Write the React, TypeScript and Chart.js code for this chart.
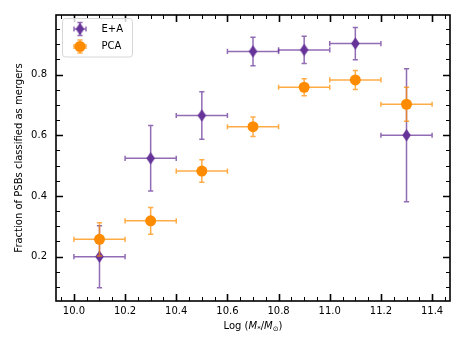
import React, { useEffect, useRef } from 'react';
import { Chart, registerables } from 'chart.js';

Chart.register(...registerables);

// ---- data ----
const massBins = [10.1, 10.3, 10.5, 10.7, 10.9, 11.1, 11.3];
const massHalfWidth = [0.1, 0.1, 0.1, 0.1, 0.1, 0.1, 0.1];
const eaFraction = [0.2, 0.524, 0.665, 0.876, 0.881, 0.902, 0.6];
const eaError = [0.102, 0.108, 0.078, 0.047, 0.045, 0.053, 0.219];
const pcaFraction = [0.257, 0.318, 0.482, 0.628, 0.758, 0.782, 0.702];
const pcaError = [0.055, 0.044, 0.037, 0.032, 0.028, 0.031, 0.056];
const xTickValues = [10.0, 10.2, 10.4, 10.6, 10.8, 11.0, 11.2, 11.4];
const yTickValues = [0.2, 0.4, 0.6, 0.8];
const seriesLabels = ['E+A', 'PCA'];
const yAxisLabel = 'Fraction of PSBs classified as mergers';
const xRange = [9.93, 11.47];
const yRange = [0.054, 0.996];
const minorStep = 0.05;

const PURPLE = '#663399';
const PURPLE_BAR = 'rgba(102,51,153,0.72)';
const ORANGE = '#ff8c00';
const ORANGE_BAR = 'rgba(255,140,0,0.72)';
const FONT = '"DejaVu Sans", sans-serif';

function makeDiamond(w: number, h: number, color: string) {
  const c = document.createElement('canvas');
  c.width = Math.ceil(w) + 2;
  c.height = Math.ceil(h) + 2;
  const g = c.getContext('2d')!;
  const cx = c.width / 2;
  const cy = c.height / 2;
  g.fillStyle = color;
  g.beginPath();
  g.moveTo(cx, cy - h / 2);
  g.lineTo(cx + w / 2, cy);
  g.lineTo(cx, cy + h / 2);
  g.lineTo(cx - w / 2, cy);
  g.closePath();
  g.fill();
  return c;
}

function drawErrorBars(ctx: CanvasRenderingContext2D, x: number, y: number, x0: number, x1: number, y0: number, y1: number, color: string) {
  const cap = 2.6;
  ctx.save();
  ctx.strokeStyle = color;
  ctx.lineWidth = 1.5;
  ctx.beginPath();
  ctx.moveTo(x0, y);
  ctx.lineTo(x1, y);
  ctx.moveTo(x, y0);
  ctx.lineTo(x, y1);
  ctx.moveTo(x0, y - cap);
  ctx.lineTo(x0, y + cap);
  ctx.moveTo(x1, y - cap);
  ctx.lineTo(x1, y + cap);
  ctx.moveTo(x - cap, y0);
  ctx.lineTo(x + cap, y0);
  ctx.moveTo(x - cap, y1);
  ctx.lineTo(x + cap, y1);
  ctx.stroke();
  ctx.restore();
}

export default function App() {
  const ref = useRef<HTMLCanvasElement | null>(null);

  useEffect(() => {
    if (!ref.current) return;
    const diamond = makeDiamond(8.5, 12.5, PURPLE);
    const errs = [eaError, pcaError];
    const barColors = [PURPLE_BAR, ORANGE_BAR];

    const errorBarPlugin = {
      id: 'errorBars',
      beforeDatasetDraw(chart: any, args: any) {
        const i = args.index;
        const ds = chart.data.datasets[i];
        const xs = chart.scales.x;
        const ys = chart.scales.y;
        const ctx = chart.ctx;
        ds.data.forEach((p: any, k: number) => {
          const px = xs.getPixelForValue(p.x);
          const py = ys.getPixelForValue(p.y);
          drawErrorBars(
            ctx,
            px,
            py,
            xs.getPixelForValue(p.x - massHalfWidth[k]),
            xs.getPixelForValue(p.x + massHalfWidth[k]),
            ys.getPixelForValue(p.y - errs[i][k]),
            ys.getPixelForValue(p.y + errs[i][k]),
            barColors[i]
          );
        });
      },
    };

    const framePlugin = {
      id: 'frame',
      afterDraw(chart: any) {
        const ctx = chart.ctx as CanvasRenderingContext2D;
        const { left, right, top, bottom } = chart.chartArea;
        const xs = chart.scales.x;
        const ys = chart.scales.y;
        ctx.save();
        ctx.strokeStyle = '#000';
        // minor ticks
        ctx.lineWidth = 1;
        ctx.beginPath();
        const nx0 = Math.ceil(xRange[0] / minorStep);
        const nx1 = Math.floor(xRange[1] / minorStep);
        for (let n = nx0; n <= nx1; n++) {
          const px = Math.round(xs.getPixelForValue(n * minorStep)) + 0.5;
          ctx.moveTo(px, bottom);
          ctx.lineTo(px, bottom - 4);
          ctx.moveTo(px, top);
          ctx.lineTo(px, top + 4);
        }
        const ny0 = Math.ceil(yRange[0] / minorStep);
        const ny1 = Math.floor(yRange[1] / minorStep);
        for (let n = ny0; n <= ny1; n++) {
          const py = Math.round(ys.getPixelForValue(n * minorStep)) + 0.5;
          ctx.moveTo(left, py);
          ctx.lineTo(left + 4, py);
          ctx.moveTo(right, py);
          ctx.lineTo(right - 4, py);
        }
        ctx.stroke();
        // major ticks
        ctx.lineWidth = 1.6;
        ctx.beginPath();
        xTickValues.forEach((v) => {
          const px = Math.round(xs.getPixelForValue(v)) + 0.5;
          ctx.moveTo(px, bottom);
          ctx.lineTo(px, bottom - 7);
          ctx.moveTo(px, top);
          ctx.lineTo(px, top + 7);
        });
        yTickValues.forEach((v) => {
          const py = Math.round(ys.getPixelForValue(v)) + 0.5;
          ctx.moveTo(left, py);
          ctx.lineTo(left + 7, py);
          ctx.moveTo(right, py);
          ctx.lineTo(right - 7, py);
        });
        ctx.stroke();
        // frame
        ctx.lineWidth = 1.6;
        ctx.strokeRect(left, top, right - left, bottom - top);

        // y axis label
        ctx.fillStyle = '#000';
        ctx.font = `10px ${FONT}`;
        ctx.textAlign = 'center';
        ctx.textBaseline = 'middle';
        ctx.save();
        ctx.translate(19, (top + bottom) / 2);
        ctx.rotate(-Math.PI / 2);
        ctx.fillText(yAxisLabel, 0, 0);
        ctx.restore();

        // x axis label with italic & subscripts
        const segs: [string, string, number][] = [
          ['Log (', `10px ${FONT}`, 0],
          ['M', `italic 10px ${FONT}`, 0],
          ['*', `7px ${FONT}`, 2.5],
          ['/', `10px ${FONT}`, 0],
          ['M', `italic 10px ${FONT}`, 0],
          ['\u2299', `7px ${FONT}`, 2.5],
          [')', `10px ${FONT}`, 0],
        ];
        let total = 0;
        segs.forEach(([t, f]) => {
          ctx.font = f;
          total += ctx.measureText(t).width;
        });
        let cx = (left + right) / 2 - total / 2;
        const by = 328.5;
        ctx.textAlign = 'left';
        ctx.textBaseline = 'alphabetic';
        segs.forEach(([t, f, dy]) => {
          ctx.font = f;
          ctx.fillText(t, cx, by + dy);
          cx += ctx.measureText(t).width;
        });

        // legend
        const lx = 62.5, ly = 18.5, lw = 70, lh = 38.5, r = 3;
        ctx.beginPath();
        ctx.moveTo(lx + r, ly);
        ctx.lineTo(lx + lw - r, ly);
        ctx.arcTo(lx + lw, ly, lx + lw, ly + r, r);
        ctx.lineTo(lx + lw, ly + lh - r);
        ctx.arcTo(lx + lw, ly + lh, lx + lw - r, ly + lh, r);
        ctx.lineTo(lx + r, ly + lh);
        ctx.arcTo(lx, ly + lh, lx, ly + lh - r, r);
        ctx.lineTo(lx, ly + r);
        ctx.arcTo(lx, ly, lx + r, ly, r);
        ctx.closePath();
        ctx.fillStyle = 'rgba(255,255,255,0.8)';
        ctx.fill();
        ctx.strokeStyle = '#d6d6d6';
        ctx.lineWidth = 1;
        ctx.stroke();

        const entries = [
          { y: 29, bar: PURPLE_BAR, kind: 'diamond' },
          { y: 46.5, bar: ORANGE_BAR, kind: 'circle' },
        ];
        entries.forEach((e, i) => {
          const mx = 80;
          drawErrorBars(ctx, mx, e.y, mx - 6, mx + 6, e.y + 6.5, e.y - 6.5, e.bar);
          if (e.kind === 'diamond') {
            ctx.drawImage(diamond, mx - diamond.width / 2, e.y - diamond.height / 2);
          } else {
            ctx.beginPath();
            ctx.fillStyle = ORANGE;
            ctx.arc(mx, e.y, 5.5, 0, Math.PI * 2);
            ctx.fill();
          }
          ctx.fillStyle = '#000';
          ctx.font = `10px ${FONT}`;
          ctx.textAlign = 'left';
          ctx.textBaseline = 'middle';
          ctx.fillText(seriesLabels[i], 101.5, e.y);
        });
        ctx.restore();
      },
    };

    const chart = new Chart(ref.current, {
      type: 'scatter',
      data: {
        datasets: [
          {
            label: seriesLabels[0],
            data: massBins.map((x, k) => ({ x, y: eaFraction[k] })),
            pointStyle: diamond as any,
            backgroundColor: PURPLE,
            borderColor: PURPLE,
            order: 1,
          },
          {
            label: seriesLabels[1],
            data: massBins.map((x, k) => ({ x, y: pcaFraction[k] })),
            pointStyle: 'circle',
            pointRadius: 5.5,
            borderWidth: 0,
            backgroundColor: ORANGE,
            borderColor: ORANGE,
            order: 0,
          },
        ],
      },
      options: {
        animation: false,
        responsive: true,
        maintainAspectRatio: false,
        layout: { padding: { top: 13, right: 13, left: 0, bottom: 0 } },
        plugins: {
          legend: { display: false },
          tooltip: { enabled: false },
        },
        scales: {
          x: {
            type: 'linear',
            min: xRange[0],
            max: xRange[1],
            grid: { display: false, drawTicks: false },
            border: { display: false },
            afterBuildTicks: (scale: any) => {
              scale.ticks = xTickValues.map((v) => ({ value: v }));
            },
            afterFit: (scale: any) => {
              scale.height = 46;
            },
            ticks: {
              padding: 4,
              color: '#000',
              font: { family: FONT, size: 10 },
              maxRotation: 0,
              autoSkip: false,
              callback: (v: any) => Number(v).toFixed(1),
            },
          },
          y: {
            type: 'linear',
            min: yRange[0],
            max: yRange[1],
            grid: { display: false, drawTicks: false },
            border: { display: false },
            afterBuildTicks: (scale: any) => {
              scale.ticks = yTickValues.map((v) => ({ value: v }));
            },
            afterFit: (scale: any) => {
              scale.width = 56;
            },
            ticks: {
              padding: 9,
              color: '#000',
              font: { family: FONT, size: 10 },
              autoSkip: false,
              callback: (v: any) => Number(v).toFixed(1),
            },
          },
        },
      },
      plugins: [errorBarPlugin, framePlugin],
    });
    return () => chart.destroy();
  }, []);

  return (
    <div style={{ position: 'fixed', left: 0, top: 0, width: 463, height: 347, background: '#fff' }}>
      <canvas ref={ref} />
    </div>
  );
}
